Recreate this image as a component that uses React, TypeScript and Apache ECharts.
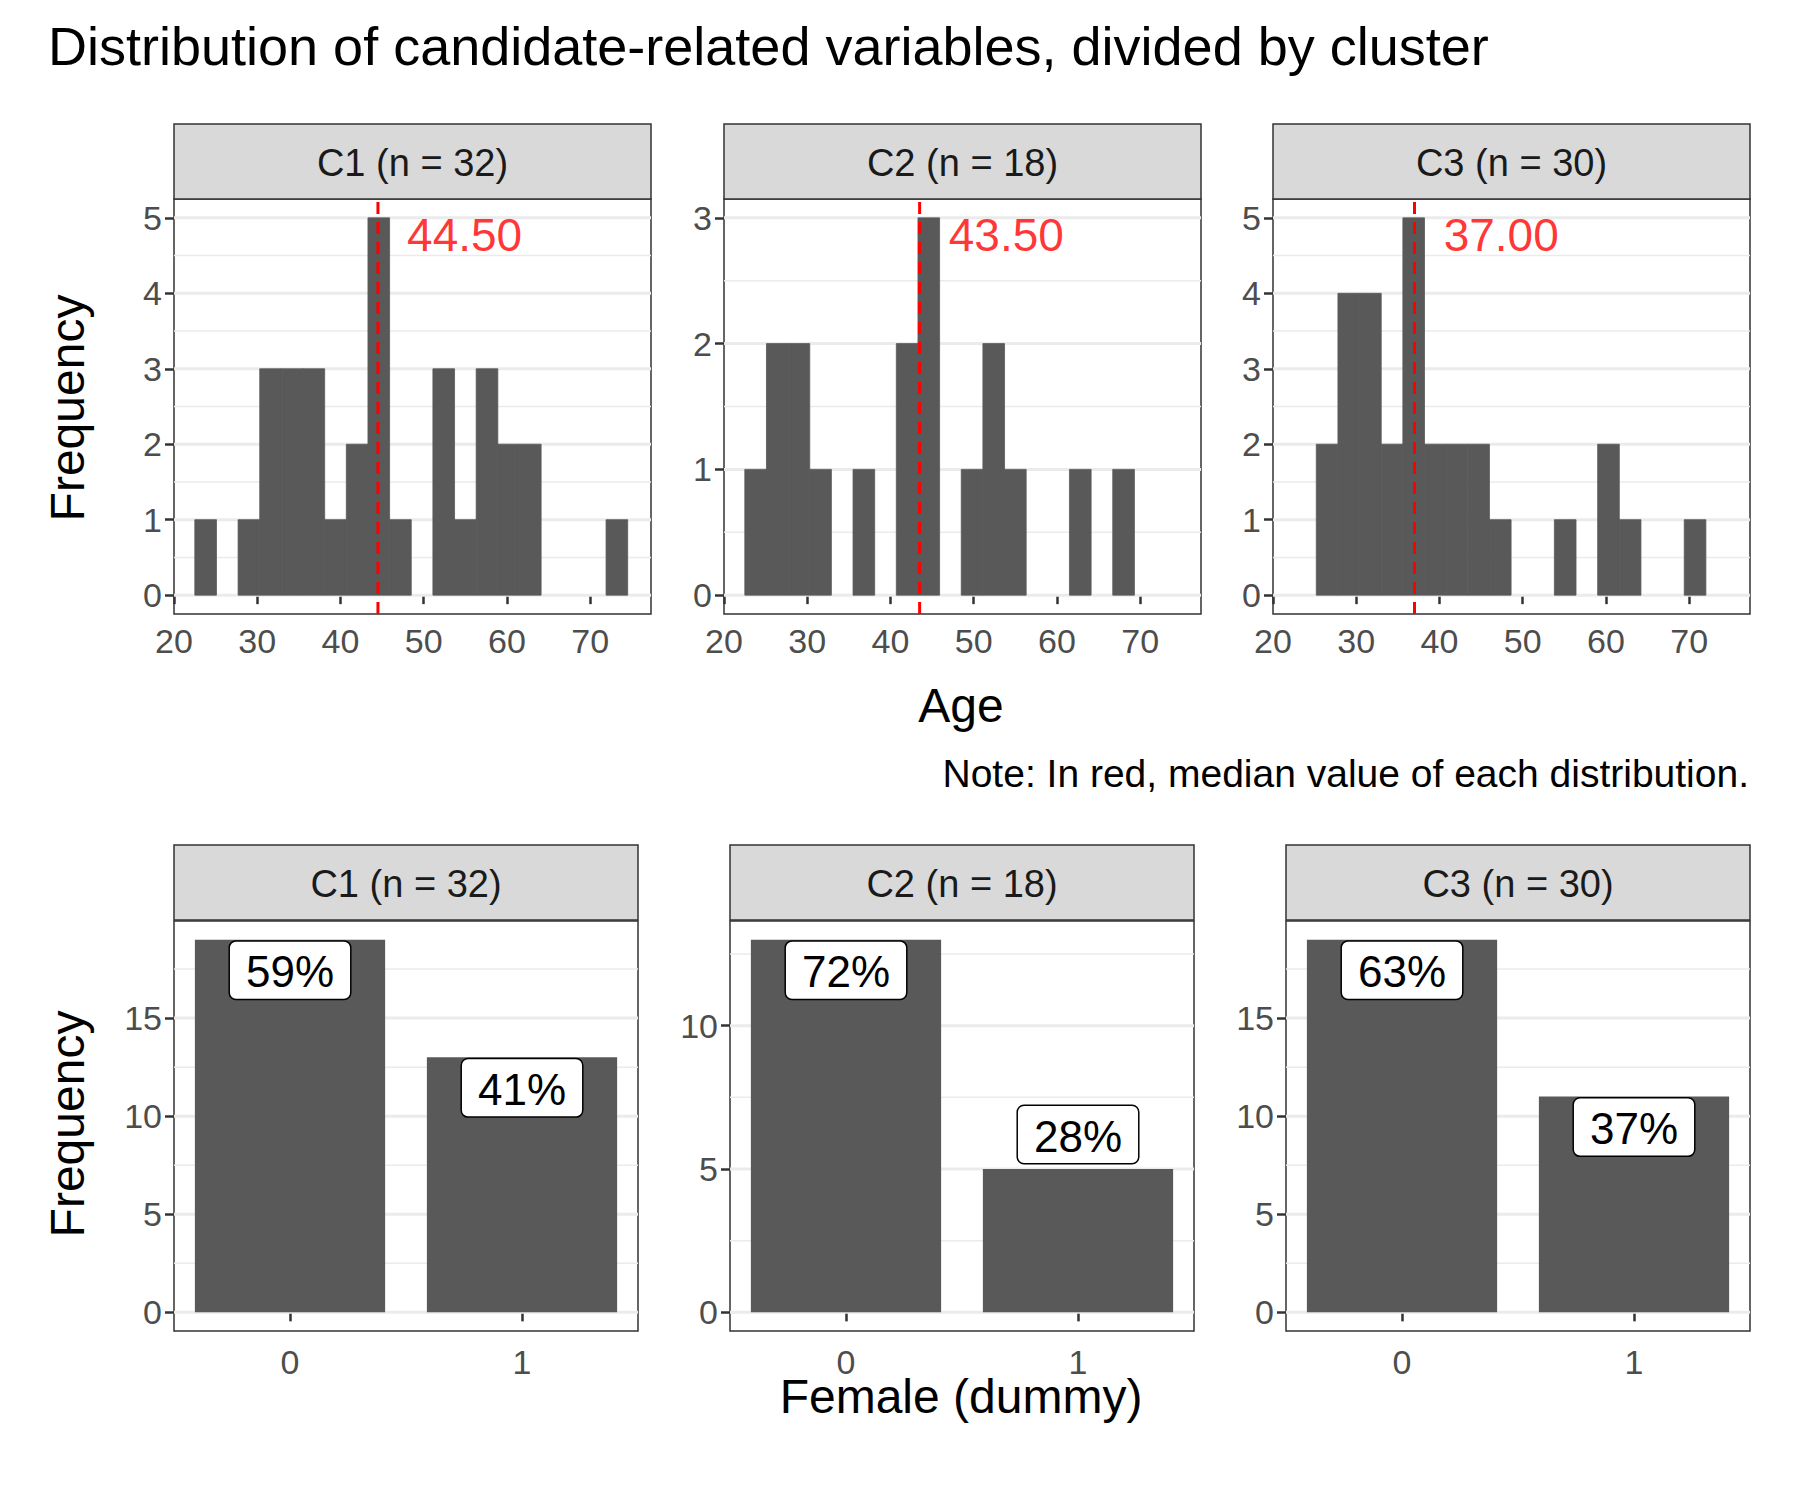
import { useEffect, useRef } from 'react';
import * as echarts from 'echarts';

const clusters = ['C1 (n = 32)', 'C2 (n = 18)', 'C3 (n = 30)'];
const binWidth = 2.6;
const binStarts = [22.5, 22.5, 25.2];
const ageCounts = [
  [1, 0, 1, 3, 3, 3, 1, 2, 5, 1, 0, 3, 1, 3, 2, 2, 0, 0, 0, 1],
  [1, 2, 2, 1, 0, 1, 0, 2, 3, 0, 1, 2, 1, 0, 0, 1, 0, 1],
  [2, 4, 4, 2, 5, 2, 2, 2, 1, 0, 0, 1, 0, 2, 1, 0, 0, 1],
];
const medians = [44.5, 43.5, 37.0];
const ageMax = [5, 3, 5];
const femaleCats = ['0', '1'];
const femaleCounts = [
  [19, 13],
  [13, 5],
  [19, 11],
];
const femaleShares = [
  ['59%', '41%'],
  ['72%', '28%'],
  ['63%', '37%'],
];
const femaleTicks = [[0, 5, 10, 15], [0, 5, 10], [0, 5, 10, 15]];

const topX = [174, 724, 1273];
const botX = [174, 730, 1286];
const topW = 477;
const botW = 464;

const FONT = 'Liberation Sans, Arial';
const tickFont = { color: '#4d4d4d', fontSize: 34, fontFamily: FONT };

export default function App() {
  const ref = useRef<HTMLDivElement>(null);

  useEffect(() => {
    document.body.style.margin = '0';
    if (!ref.current) return;
    const chart = echarts.init(ref.current, null, { renderer: 'svg' });

    const grids: any[] = [];
    const xAxes: any[] = [];
    const yAxes: any[] = [];
    const series: any[] = [];
    const graphic: any[] = [];

    const stripe = (x: number, y: number, w: number, label: string) => {
      graphic.push({
        type: 'rect', shape: { x, y, width: w, height: 75 },
        style: { fill: '#d9d9d9', stroke: '#333', lineWidth: 1.5 },
      });
      graphic.push({
        type: 'text', x: x + w / 2, y: y + 39,
        style: { text: label, fill: '#1a1a1a', fontSize: 38, fontFamily: FONT, align: 'center', verticalAlign: 'middle' },
      });
    };

    const yAxisBase = (gi: number, min: number, max: number, ticks: number[]) => ({
      type: 'value', gridIndex: gi, min, max,
      axisLine: { show: false },
      axisTick: { show: true, length: 9, lineStyle: { color: '#333', width: 2.5 }, customValues: ticks },
      axisLabel: { ...tickFont, margin: 12, customValues: ticks },
      splitLine: { show: false },
      minorSplitLine: { show: false },
    });

    // top row: age histograms
    for (let i = 0; i < 3; i++) {
      const gi = i;
      grids.push({ left: topX[i], top: 199, width: topW, height: 415, show: true, borderColor: '#333', borderWidth: 1.5, backgroundColor: '#fff' });
      stripe(topX[i], 124, topW, clusters[i]);
      const xt = [20, 30, 40, 50, 60, 70];
      xAxes.push({
        type: 'value', gridIndex: gi, min: 20, max: 77.3,
        axisLine: { show: false },
        axisTick: { show: true, length: 9, lineStyle: { color: '#333', width: 2.5 }, customValues: xt },
        axisLabel: { ...tickFont, margin: 10, customValues: xt },
        splitLine: { show: false },
      });
      const m = ageMax[i];
      const pad = m * 0.05;
      yAxes.push(yAxisBase(gi, -pad, m + pad, Array.from({ length: m + 1 }, (_, k) => k)));
      const grid: number[] = [];
      for (let k = 0; k <= m * 2; k++) grid.push(k / 2);
      series.push({
        type: 'custom', xAxisIndex: gi, yAxisIndex: gi, silent: true, z: 1, clip: true,
        data: grid.map((g) => [g]),
        renderItem: (_p: any, api: any) => {
          const v = api.value(0);
          const a = api.coord([20, v]);
          const b = api.coord([77.3, v]);
          return { type: 'line', shape: { x1: a[0], y1: a[1], x2: b[0], y2: b[1] }, style: { stroke: '#ebebeb', lineWidth: v % 1 === 0 ? 3 : 1.5 } };
        },
      });
      series.push({
        type: 'custom', xAxisIndex: gi, yAxisIndex: gi, silent: true, z: 2,
        data: ageCounts[i].map((c, k) => [binStarts[i] + k * binWidth, c]),
        renderItem: (_p: any, api: any) => {
          const x0 = api.value(0);
          const c = api.value(1);
          if (!c) return null;
          const p0 = api.coord([x0, c]);
          const p1 = api.coord([x0 + binWidth, 0]);
          return { type: 'rect', shape: { x: p0[0], y: p0[1], width: p1[0] - p0[0], height: p1[1] - p0[1] }, style: { fill: '#595959', stroke: '#595959', lineWidth: 0.8 } };
        },
      });
      series.push({
        type: 'line', xAxisIndex: gi, yAxisIndex: gi, z: 3, symbol: 'none',
        data: [[medians[i], -pad], [medians[i], m + pad]],
        lineStyle: { color: '#ff0000', width: 3, type: [12, 8] },
      });
      series.push({
        type: 'scatter', xAxisIndex: gi, yAxisIndex: gi, z: 4, symbolSize: 0,
        data: [[medians[i] + 3.5, m * 0.955]],
        label: {
          show: true, position: 'right', distance: 0, formatter: medians[i].toFixed(2),
          color: '#ff0000', fontSize: 46, fontFamily: FONT,
        },
      });
    }

    // bottom row: female dummy
    for (let i = 0; i < 3; i++) {
      const gi = i + 3;
      grids.push({ left: botX[i], top: 921, width: botW, height: 410, show: true, borderColor: '#333', borderWidth: 1.5, backgroundColor: '#fff' });
      stripe(botX[i], 845, botW, clusters[i]);
      xAxes.push({
        type: 'category', gridIndex: gi, data: femaleCats,
        axisLine: { show: false },
        axisTick: { show: true, alignWithLabel: true, length: 9, lineStyle: { color: '#333', width: 2.5 } },
        axisLabel: { ...tickFont, margin: 14 },
      });
      const m = Math.max(...femaleCounts[i]);
      const pad = m * 0.05;
      yAxes.push(yAxisBase(gi, -pad, m + pad, femaleTicks[i]));
      const grid: number[] = [];
      for (let k = 0; k * 2.5 <= m + pad; k++) grid.push(k * 2.5);
      series.push({
        type: 'custom', xAxisIndex: gi, yAxisIndex: gi, silent: true, z: 1, clip: true,
        data: grid.map((g) => [0, g]),
        renderItem: (_p: any, api: any) => {
          const v = api.value(1);
          const r = api.coord([0, v]);
          const w = api.size([1, 0])[0];
          return { type: 'line', shape: { x1: r[0] - w, y1: r[1], x2: r[0] + w * 2, y2: r[1] }, style: { stroke: '#ebebeb', lineWidth: v % 5 === 0 ? 3 : 1.5 } };
        },
      });
      series.push({
        type: 'bar', xAxisIndex: gi, yAxisIndex: gi, z: 2, barWidth: '82%', silent: true,
        itemStyle: { color: '#595959' },
        data: femaleCounts[i].map((c, k) => ({
          value: c,
          label: {
            show: true,
            position: c < m * 0.4 ? 'top' : 'insideTop',
            distance: c < m * 0.4 ? 6 : 2,
            formatter: femaleShares[i][k],
            color: '#000', fontSize: 44, fontFamily: FONT,
            backgroundColor: '#fff', borderColor: '#000', borderWidth: 1.5, borderRadius: 6,
            padding: [8, 16, 5, 16],
          },
        })),
      });
    }

    const txt = (x: number, y: number, text: string, size: number, align: string, extra: any = {}) => ({
      type: 'text', x, y, ...extra,
      style: { text, fill: '#000', fontSize: size, fontFamily: FONT, align, verticalAlign: 'middle' },
    });
    graphic.push(txt(48, 46, 'Distribution of candidate-related variables, divided by cluster', 54, 'left'));
    graphic.push(txt(67, 408, 'Frequency', 48, 'center', { rotation: Math.PI / 2 }));
    graphic.push(txt(67, 1124, 'Frequency', 48, 'center', { rotation: Math.PI / 2 }));
    graphic.push(txt(961, 705, 'Age', 48, 'center'));
    graphic.push(txt(961, 1396, 'Female (dummy)', 48, 'center'));
    graphic.push(txt(1749, 773, 'Note: In red, median value of each distribution.', 39, 'right'));

    chart.setOption({
      animation: false,
      backgroundColor: '#fff',
      grid: grids,
      xAxis: xAxes,
      yAxis: yAxes,
      series,
      graphic,
    });
    return () => chart.dispose();
  }, []);

  return <div ref={ref} style={{ width: 1800, height: 1500 }} />;
}
